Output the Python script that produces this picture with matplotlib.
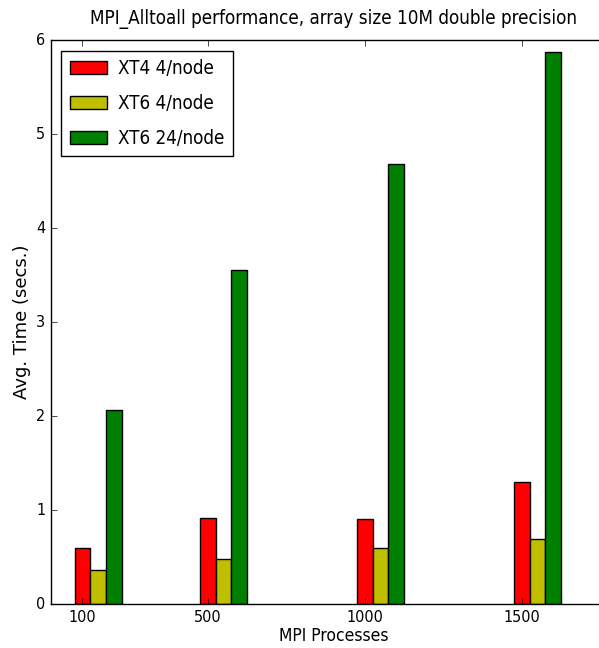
import matplotlib

matplotlib.use("Agg")
import matplotlib.pyplot as plt
import numpy as np

plt.style.use("classic")
plt.rcParams["font.family"] = ["DejaVu Sans"]
plt.rcParams["font.stretch"] = "condensed"

processes = [100, 500, 1000, 1500]
xt4_4_per_node = [0.60, 0.92, 0.90, 1.30]
xt6_4_per_node = [0.365, 0.48, 0.60, 0.695]
xt6_24_per_node = [2.07, 3.56, 4.68, 5.88]

series = [
    ("XT4 4/node", xt4_4_per_node, "r"),
    ("XT6 4/node", xt6_4_per_node, "y"),
    ("XT6 24/node", xt6_24_per_node, "g"),
]
bar_width = 50

fig = plt.figure(figsize=(5.99, 6.48), dpi=100, facecolor="white")
# axes run past the right edge, as in the cropped original
ax = fig.add_axes([0.0851, 0.0679, 0.943, 0.870])

x = np.array(processes, dtype=float)
for i, (label, values, color) in enumerate(series):
    ax.bar(x + i * bar_width, values, bar_width, align="center",
           color=color, edgecolor="black", linewidth=1, label=label)

ax.set_xlim(0, 1800)
ax.set_ylim(0, 6)
ax.set_xticks(processes)
ax.set_yticks(range(7))
ax.tick_params(labelsize=11.5)
ax.set_xlabel("MPI Processes", fontsize=12.5, labelpad=2)
ax.set_ylabel("Avg. Time (secs.)", fontsize=13, fontstretch="normal",
              labelpad=4)
ax.set_title("MPI_Alltoall performance, array size 10M double precision",
             fontsize=13.5, pad=12)
ax.legend(loc="upper left", fontsize=13.5, fancybox=False, labelspacing=0.85,
          handlelength=2.0, handletextpad=0.6, borderaxespad=0.55,
          borderpad=0.45)

fig.savefig("out.png", dpi=100, facecolor="white")
